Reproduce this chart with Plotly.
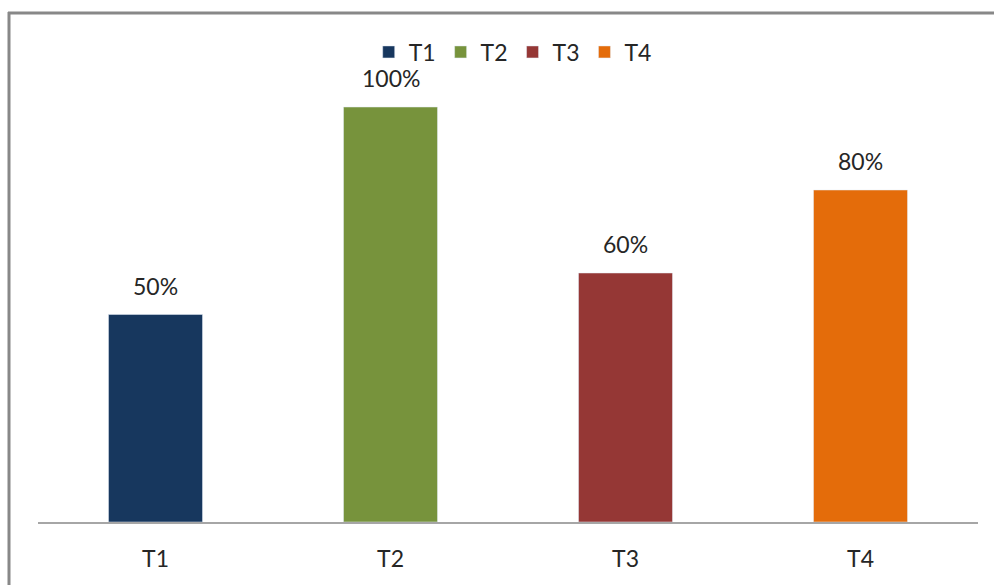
import plotly.graph_objects as go

categories = ["T1", "T2", "T3", "T4"]
values = [50, 100, 60, 80]
colors = ["#17375E", "#77933C", "#953735", "#E46C0A"]

W, H = 994, 585
ml, mr, mt, mb = 38, 16, 60, 63
pw, ph = W - ml - mr, H - mt - mb

def px_x(p):
    return (p - ml) / pw

def px_y(p):
    return (H - mb - p) / ph

FONT = "Lato, Open Sans, sans-serif"
TXT = "#262626"

fig = go.Figure()
for c, v, col in zip(categories, values, colors):
    fig.add_trace(go.Bar(
        x=[c], y=[v], name=c, marker_color=col, width=0.4,
        hoverinfo="x+y",
    ))

annotations = [
    dict(x=c, y=v, xref="x", yref="y", text=f"{v}%", showarrow=False,
         yshift=29, yanchor="middle", font=dict(size=23, color=TXT, family=FONT))
    for c, v in zip(categories, values)
]

fig.update_layout(
    width=W, height=H,
    margin=dict(l=ml, r=mr, t=mt, b=mb, autoexpand=False),
    paper_bgcolor="white", plot_bgcolor="white",
    barmode="overlay",
    font=dict(family=FONT, color=TXT, size=23),
    showlegend=True,
    legend=dict(orientation="h", x=0.505, xanchor="center", y=px_y(52), yanchor="middle",
                font=dict(size=23), itemwidth=30, traceorder="normal", itemclick=False,
                tracegroupgap=0),
    xaxis=dict(categoryorder="array", categoryarray=categories, showline=True,
               linecolor="#A6A6A6", linewidth=1.5, ticks="", showgrid=False,
               tickfont=dict(size=23), ticklabelstandoff=16, automargin=False),
    yaxis=dict(range=[0, 111.33], visible=False, showgrid=False, automargin=False),
    annotations=annotations,
    shapes=[
        dict(type="line", xref="paper", yref="paper", x0=px_x(8), x1=px_x(994), y0=px_y(13), y1=px_y(13),
             line=dict(color="#888888", width=3)),
        dict(type="line", xref="paper", yref="paper", x0=px_x(9), x1=px_x(9), y0=px_y(12), y1=px_y(590),
             line=dict(color="#888888", width=3)),
    ],
)

fig.write_html("out.html")
